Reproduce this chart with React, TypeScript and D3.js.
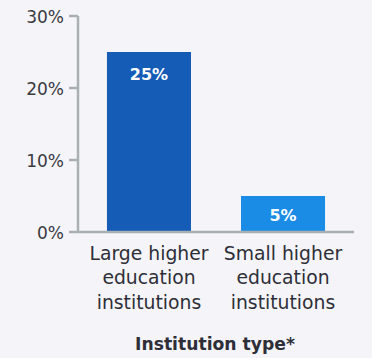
import React from "react";
import * as d3 from "d3";

const categories: string[][] = [
  ["Large higher", "education", "institutions"],
  ["Small higher", "education", "institutions"],
];
const values: number[] = [25, 5];
const barColors: string[] = ["#155cb6", "#1a8ce6"];
const yTicks: number[] = [0, 10, 20, 30];
const xTitle = "Institution type*";

export default function App() {
  const W = 372, H = 358;
  const font = "'DejaVu Sans', sans-serif";
  const x = d3.scaleBand<number>().domain([0, 1]).range([78, 354]).paddingInner(0.373).paddingOuter(0.216);
  const y = d3.scaleLinear().domain([0, 30]).range([232, 16]);
  const fmt = (v: number) => `${v}%`;
  return (
    <svg width={W} height={H} style={{ position: "absolute", left: 0, top: 0, display: "block" }}>
      <rect x={0} y={0} width={W} height={H} fill="#f5f5f9" />
      {values.map((v, i) => (
        <g key={i}>
          <rect x={x(i)!} y={y(v)} width={x.bandwidth()} height={y(0) - y(v)} fill={barColors[i]} />
          <text x={x(i)! + x.bandwidth() / 2} y={v > 10 ? y(v) + 22 : (y(v) + y(0)) / 2 + 1}
            textAnchor="middle" dominantBaseline="central" fill="#fff" fontFamily={font}
            fontWeight="bold" fontSize={16}>{fmt(v)}</text>
        </g>
      ))}
      <line x1={78} x2={78} y1={y(30)} y2={y(0)} stroke="#a9b0b3" strokeWidth={2.5} />
      <line x1={78} x2={354} y1={y(0)} y2={y(0)} stroke="#a9b0b3" strokeWidth={2.5} />
      {yTicks.map((t) => (
        <g key={t}>
          <line x1={69} x2={78} y1={y(t)} y2={y(t)} stroke="#a9b0b3" strokeWidth={2.5} />
          <text x={64} y={y(t) + 1} textAnchor="end" dominantBaseline="central" fill="#3a3a40"
            fontFamily={font} fontSize={17}>{fmt(t)}</text>
        </g>
      ))}
      {categories.map((lines, i) => (
        <text key={i} x={x(i)! + x.bandwidth() / 2} textAnchor="middle" fill="#2e2e38" fontFamily={font} fontSize={18.8}>
          {lines.map((l, j) => (
            <tspan key={j} x={x(i)! + x.bandwidth() / 2} y={253 + j * 24.5} dominantBaseline="central">{l}</tspan>
          ))}
        </text>
      ))}
      <text x={215} y={344} textAnchor="middle" dominantBaseline="central" fill="#2e2e38"
        fontFamily={font} fontWeight="bold" fontSize={17.2}>{xTitle}</text>
    </svg>
  );
}
